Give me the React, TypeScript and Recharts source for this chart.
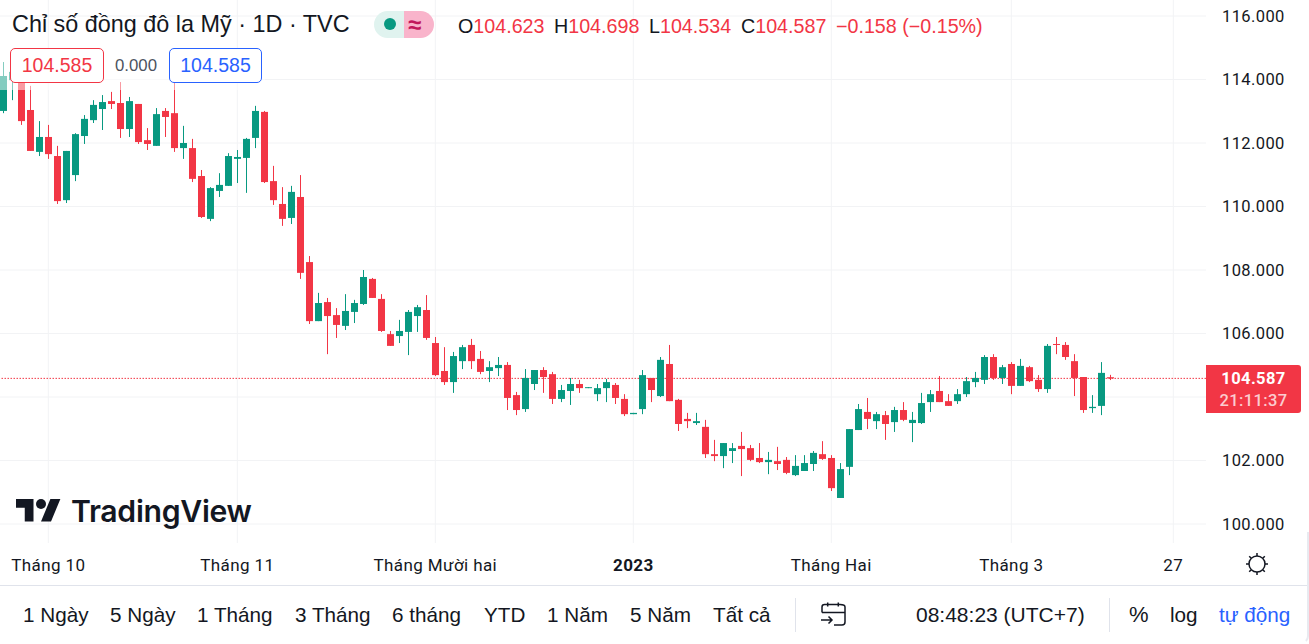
import React from 'react';
import { ComposedChart, Bar, XAxis, YAxis, ReferenceLine } from 'recharts';

const opens = [
  113.01, 113.98, 113.98, 113.04, 111.72, 112.19, 111.59, 110.20, 110.99, 112.22, 112.72, 113.07, 113.32, 113.26, 112.44, 113.23,
  112.09, 111.91, 113.01, 112.94, 111.84, 111.84, 110.96, 109.61, 110.49, 110.65, 111.50, 111.53, 112.16, 112.98, 110.80, 110.08,
  109.64, 110.30, 108.25, 106.39, 106.99, 106.58, 106.24, 106.68, 106.93, 107.72, 107.09, 105.98, 105.92, 106.05, 106.55, 106.74,
  105.70, 104.82, 104.47, 105.13, 105.64, 105.20, 104.82, 104.91, 105.01, 104.06, 103.62, 104.41, 104.85, 104.72, 103.94, 104.19,
  104.41, 104.28, 104.09, 104.28, 104.38, 103.94, 103.46, 103.62, 104.60, 104.03, 105.04, 103.91, 103.31, 103.18, 103.06, 102.20,
  102.14, 102.30, 102.46, 102.39, 102.08, 101.95, 101.98, 102.02, 101.54, 101.67, 101.89, 102.20, 102.08, 100.82, 101.80, 102.96,
  103.53, 103.24, 103.43, 103.21, 103.59, 103.18, 103.18, 103.84, 104.19, 103.87, 103.87, 104.09, 104.47, 104.54, 105.26, 104.60,
  105.04, 104.35, 104.94, 104.54, 104.25, 105.67, 105.64, 105.13, 104.63, 103.65, 103.72, 104.623,
];
const closes = [
  114.11, 114.24, 112.69, 111.75, 112.19, 111.65, 110.17, 111.75, 112.28, 112.76, 113.20, 113.29, 113.23, 112.44, 113.32, 112.03,
  111.97, 112.91, 112.82, 111.84, 112.00, 110.87, 109.67, 110.58, 110.68, 111.59, 111.56, 112.13, 113.01, 110.77, 110.20, 109.61,
  110.46, 107.91, 106.39, 106.96, 106.55, 106.27, 106.71, 106.96, 107.78, 107.12, 106.08, 105.61, 106.08, 106.68, 106.83, 105.86,
  104.69, 104.47, 105.29, 105.57, 105.13, 104.79, 104.94, 105.01, 103.97, 103.59, 104.60, 104.85, 104.63, 103.94, 104.22, 104.41,
  104.28, 104.31, 104.28, 104.47, 103.97, 103.46, 103.50, 104.69, 104.22, 105.17, 103.87, 103.15, 103.24, 103.24, 102.20, 102.14,
  102.55, 102.39, 102.36, 102.02, 101.95, 102.02, 101.89, 101.61, 101.83, 101.92, 102.24, 102.05, 101.13, 101.73, 102.99, 103.62,
  103.31, 103.46, 103.15, 103.59, 103.28, 103.28, 103.81, 104.09, 103.84, 103.72, 104.09, 104.50, 104.60, 105.26, 104.60, 104.94,
  104.35, 104.98, 104.50, 104.25, 105.61, 105.64, 105.26, 104.60, 103.59, 103.69, 104.76, 104.587,
];
const highs = [
  114.55, 114.36, 114.14, 113.80, 112.69, 112.57, 111.91, 111.75, 112.31, 112.88, 113.35, 113.51, 113.61, 113.92, 113.45, 113.23,
  112.47, 113.10, 113.10, 113.92, 112.54, 112.13, 111.15, 110.61, 111.05, 111.68, 111.78, 112.16, 113.17, 113.01, 111.28, 110.61,
  110.65, 110.99, 108.44, 107.28, 107.12, 106.80, 107.24, 107.06, 108.00, 107.75, 107.24, 106.08, 106.43, 106.74, 106.90, 107.21,
  105.89, 105.57, 105.42, 105.64, 105.83, 105.45, 105.13, 105.26, 105.10, 104.16, 104.88, 104.85, 104.94, 104.79, 104.38, 104.60,
  104.54, 104.31, 104.41, 104.57, 104.44, 104.09, 103.50, 104.85, 104.60, 105.26, 105.64, 103.94, 103.50, 103.50, 103.28, 102.65,
  102.55, 102.55, 102.90, 102.49, 102.55, 102.27, 102.43, 102.11, 102.17, 102.17, 102.30, 102.61, 102.17, 101.92, 102.99, 103.78,
  103.97, 103.53, 103.56, 103.69, 103.84, 103.53, 104.13, 104.22, 104.66, 104.09, 104.25, 104.63, 104.79, 105.32, 105.35, 105.01,
  105.10, 105.20, 104.98, 104.69, 105.67, 105.89, 105.73, 105.35, 104.63, 104.06, 105.10, 104.698,
];
const lows = [
  112.94, 113.35, 112.57, 111.75, 111.59, 111.50, 110.08, 110.11, 110.80, 111.97, 112.63, 112.41, 113.07, 112.16, 112.19, 111.97,
  111.78, 111.91, 112.19, 111.72, 111.50, 110.77, 109.64, 109.54, 110.30, 110.65, 110.74, 110.43, 111.84, 110.74, 110.05, 109.39,
  109.45, 107.72, 106.30, 106.39, 105.35, 105.86, 106.11, 106.33, 106.90, 107.12, 106.05, 105.61, 105.70, 105.32, 106.05, 105.80,
  104.66, 104.38, 104.13, 104.88, 104.88, 104.72, 104.47, 104.66, 103.59, 103.43, 103.53, 104.22, 104.13, 103.78, 103.84, 103.75,
  104.13, 104.28, 103.87, 103.84, 103.78, 103.40, 103.46, 103.46, 103.84, 104.00, 103.87, 102.93, 103.02, 103.12, 102.08, 101.98,
  101.76, 101.92, 101.51, 101.98, 101.92, 101.57, 101.70, 101.57, 101.51, 101.67, 101.67, 102.02, 101.04, 100.82, 101.54, 102.96,
  102.99, 102.99, 102.65, 102.90, 103.24, 102.58, 103.15, 103.53, 103.84, 103.72, 103.78, 104.00, 104.31, 104.41, 104.54, 104.41,
  104.09, 104.35, 104.47, 104.16, 104.13, 105.35, 105.17, 104.03, 103.50, 103.50, 103.43, 104.534,
];

const priceTicks = [100, 102, 104, 106, 108, 110, 112, 114, 116];
const timeTicks = [5, 26, 48, 70, 92, 112, 130];
const timeLabels = ['Tháng 10', 'Tháng 11', 'Tháng Mười hai', '2023', 'Tháng Hai', 'Tháng 3', '27'];
const lastPrice = 104.587;
// this tick sits under the price tag, the grid line stays
const coveredTick = 104;

const rangeButtons = [
  { label: '1 Ngày', left: 23 },
  { label: '5 Ngày', left: 110 },
  { label: '1 Tháng', left: 197 },
  { label: '3 Tháng', left: 295 },
  { label: '6 tháng', left: 392 },
  { label: 'YTD', left: 484 },
  { label: '1 Năm', left: 547 },
  { label: '5 Năm', left: 630 },
  { label: 'Tất cả', left: 713 },
];

const UP = '#089981';
const DOWN = '#F23645';
const INK = '#131722';
const GRID = '#f2f3f5';
const ARIAL = '"Liberation Sans", Arial, sans-serif';
const AXIS_FONT = 'Roboto, sans-serif';

const candles = opens.map((open, i) => ({
  idx: i,
  open,
  close: closes[i],
  high: highs[i],
  low: lows[i],
  range: [lows[i], highs[i]],
}));

// Bar gives us the low..high box, open/close are placed inside it
function Candle(props: any) {
  const { x, y, width, height, payload } = props;
  const { open, close, high, low } = payload;
  const color = close >= open ? UP : DOWN;
  const left = Math.round(x);
  const perUnit = height / (high - low);
  const top = y + (high - Math.max(open, close)) * perUnit;
  const bodyH = Math.max(Math.abs(open - close) * perUnit, 1);
  return (
    <g>
      <rect x={left + 3} y={y} width={1} height={height} fill={color} />
      <rect x={left} y={top} width={Math.round(width)} height={bodyH} fill={color} />
    </g>
  );
}

function TimeTick(props: any) {
  const { x, y, payload } = props;
  const label = timeLabels[timeTicks.indexOf(payload.value)];
  return (
    <text
      x={x}
      y={y + 1}
      textAnchor="middle"
      fill={INK}
      fontFamily={AXIS_FONT}
      fontSize={17}
      letterSpacing="0.4px"
      fontWeight={label === '2023' ? 700 : 400}
    >
      {label}
    </text>
  );
}

const abs = (left: number, top: number, extra: React.CSSProperties = {}): React.CSSProperties => ({
  position: 'absolute',
  left,
  top,
  whiteSpace: 'nowrap',
  ...extra,
});

function Legend() {
  const num = { color: DOWN };
  const ohlc = { font: `19.7px ${ARIAL}`, color: INK };
  return (
    <>
      <div style={abs(0, 48, { width: 265, height: 42, background: 'rgba(255,255,255,0.5)' })} />
      <div style={abs(12, 11, { font: `23.4px ${ARIAL}`, color: INK })}>Chỉ số đồng đô la Mỹ · 1D · TVC</div>
      <div style={abs(374, 11, { width: 30, height: 27, background: '#e0f3ef', borderRadius: '14px 0 0 14px' })} />
      <div style={abs(404, 11, { width: 30, height: 27, background: '#f9b4cb', borderRadius: '0 14px 14px 0' })} />
      <div style={abs(384, 18, { width: 12, height: 12, borderRadius: 6, background: UP })} />
      <div style={abs(408, 11, { font: `bold 24px ${ARIAL}`, color: '#c2185b', lineHeight: '27px' })}>≈</div>
      <div style={abs(458, 15, ohlc)}>O<span style={num}>104.623</span></div>
      <div style={abs(554, 15, ohlc)}>H<span style={num}>104.698</span></div>
      <div style={abs(649, 15, ohlc)}>L<span style={num}>104.534</span></div>
      <div style={abs(741, 15, ohlc)}>C<span style={num}>104.587</span></div>
      <div style={abs(836, 15, { ...ohlc, color: DOWN })}>−0.158 (−0.15%)</div>
      <div style={abs(10, 48, { width: 92, height: 33, border: `1px solid ${DOWN}`, borderRadius: 5, background: '#fff', color: DOWN, font: `19.5px ${ARIAL}`, lineHeight: '33px', textAlign: 'center' })}>104.585</div>
      <div style={abs(115, 56, { font: `16.8px ${ARIAL}`, color: '#4c525e' })}>0.000</div>
      <div style={abs(169, 48, { width: 91, height: 33, border: '1px solid #2962FF', borderRadius: 5, background: '#fff', color: '#2962FF', font: `19.5px ${ARIAL}`, lineHeight: '33px', textAlign: 'center' })}>104.585</div>
    </>
  );
}

function Watermark() {
  return (
    <>
      <svg style={abs(16, 494)} width={45} height={35} viewBox="0 0 36 28">
        <path d="M14 22H7V11H0V4h14v18zM28 22h-8l7.5-18h8L28 22z" fill={INK} />
        <circle cx={20} cy={8} r={4} fill={INK} />
      </svg>
      <div style={abs(71, 493, { font: `600 30.2px Inter, sans-serif`, color: INK, letterSpacing: '-0.3px' })}>TradingView</div>
    </>
  );
}

function PriceTag() {
  return (
    <div style={abs(1206, 365, { width: 95, height: 48, background: DOWN, borderRadius: '0 3px 3px 0', textAlign: 'center', fontFamily: AXIS_FONT, fontSize: 16.5, letterSpacing: '0.4px' })}>
      <div style={{ color: '#fff', fontWeight: 700, lineHeight: '25px', marginTop: 1 }}>{lastPrice.toFixed(3)}</div>
      <div style={{ color: 'rgba(255,255,255,0.75)', fontWeight: 500, lineHeight: '20px' }}>21:11:37</div>
    </div>
  );
}

function BottomBar() {
  const item = { font: `20.7px ${ARIAL}`, color: INK };
  return (
    <>
      <div style={abs(0, 585, { width: 1307, height: 1, background: '#e0e3eb' })} />
      <div style={abs(1289, 532, { width: 18, height: 110, borderRight: '2px solid #e8eaf0', borderBottom: '2px solid transparent', borderRadius: '0 0 8px 0' })} />
      {rangeButtons.map(b => (
        <div key={b.label} style={abs(b.left, 603, item)}>{b.label}</div>
      ))}
      <div style={abs(795, 598, { width: 1, height: 34, background: '#e0e3eb' })} />
      <svg style={abs(819, 601)} width={28} height={28} viewBox="0 0 28 28" fill="none" stroke={INK} strokeWidth={1.5}>
        <path d="M3 11.500V6C3 4.500 4 3.500 5.500 3.500h15.500C24.500 3.500 26 4.500 26 6v15c0 2-1 3-3 3H15" />
        <path d="M3 11.500h23M8.700 1.500v4M19.300 1.500v4" />
        <path d="M2 19h11M9.500 15.500 13 19l-3.500 3.500" />
      </svg>
      <div style={abs(916, 603, { ...item, fontSize: 21 })}>08:48:23 (UTC+7)</div>
      <div style={abs(1109, 598, { width: 1, height: 34, background: '#e0e3eb' })} />
      <div style={abs(1129, 602, { ...item, fontSize: 22 })}>%</div>
      <div style={abs(1170, 603, item)}>log</div>
      <div style={abs(1219, 603, { ...item, color: '#2962FF' })}>tự động</div>
    </>
  );
}

function SunIcon() {
  return (
    <svg style={abs(1243, 550)} width={28} height={28} viewBox="0 0 28 28" fill="none" stroke={INK} strokeWidth={1.5}>
      <circle cx={14} cy={14} r={8} />
      <path d="M14 3v3M14 22v3M3 14h3M22 14h3M6.200 6.200l1.800 1.800M21.800 6.200 20 8M6.200 21.800 8 20M21.800 21.800 20 20" />
    </svg>
  );
}

export default function App() {
  return (
    <div style={{ position: 'absolute', left: 0, top: 0, width: 1309, height: 644, background: '#fff', overflow: 'hidden' }}>
      <ComposedChart width={1309} height={585} data={candles} margin={{ top: 0, right: 0, bottom: 0, left: 0 }}>
        <XAxis
          dataKey="idx"
          type="number"
          scale="linear"
          domain={[-0.367, 133.633]}
          ticks={timeTicks}
          interval={0}
          height={42}
          axisLine={false}
          tickLine={false}
          tick={<TimeTick />}
          tickSize={0}
          tickMargin={27}
        />
        <YAxis
          orientation="right"
          type="number"
          domain={[99.402, 116.504]}
          ticks={priceTicks}
          interval={0}
          width={103}
          axisLine={false}
          tickLine={false}
          tickSize={0}
          tickMargin={16}
          tick={{ fill: INK, fontSize: 16.5, fontFamily: AXIS_FONT, letterSpacing: '0.4px' }}
          tickFormatter={(v: number) => (v === coveredTick ? '' : v.toFixed(3))}
        />
        {priceTicks.map(v => (
          <ReferenceLine key={`h${v}`} y={v} stroke={GRID} zIndex={50} />
        ))}
        {timeTicks.map(v => (
          <ReferenceLine key={`v${v}`} x={v} stroke={GRID} zIndex={50} />
        ))}
        <ReferenceLine y={lastPrice} stroke={DOWN} strokeDasharray="1.5 1.5" zIndex={100} />
        <Bar dataKey="range" barSize={7} shape={<Candle />} isAnimationActive={false} />
      </ComposedChart>
      <Legend />
      <Watermark />
      <PriceTag />
      <SunIcon />
      <BottomBar />
    </div>
  );
}
